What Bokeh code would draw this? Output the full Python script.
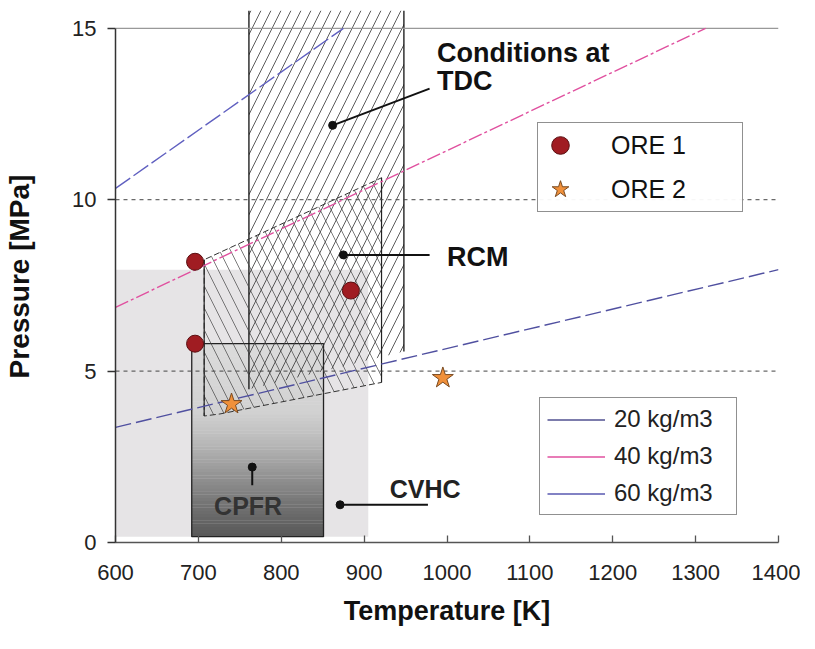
import numpy as np
from bokeh.plotting import figure
from bokeh.models import Range1d, Legend, LegendItem, FixedTicker
from bokeh.core.properties import value
from bokeh.embed import file_html
from bokeh.resources import INLINE

# ---------------- data ----------------
x_ticks = [600, 700, 800, 900, 1000, 1100, 1200, 1300, 1400]
y_ticks = [0, 5, 10, 15]

# iso-density lines (Temperature K, Pressure MPa)
rho20_T = [600, 1400]
rho20_P = [3.36, 7.96]
rho40_T = [600, 1312]
rho40_P = [6.86, 15.0]
rho60_T = [600, 875]
rho60_P = [10.33, 15.0]

# ORE points
ore1_T = [696, 696, 884]
ore1_P = [8.19, 5.8, 7.35]
ore2_T = [740, 995]
ore2_P = [4.04, 4.8]

# regions
cvhc_box = dict(left=600, right=905, bottom=0.17, top=7.96)
cpfr_box = dict(left=692, right=851, bottom=0.17, top=5.8)
rcm_T = [707, 707, 726, 921, 921]
rcm_P = [8.25, 3.69, 3.75, 4.67, 10.64]
tdc_T = [761, 761, 948, 948]
tdc_P = [15.52, 4.47, 5.57, 15.52]

# annotation pointers: dot position and line end
ann_dot_T = [862, 875, 765, 871]
ann_dot_P = [12.17, 8.39, 2.2, 1.1]
ann_end_T = [979, 979, 765, 977]
ann_end_P = [13.24, 8.39, 1.67, 1.1]

# ---------------- figure ----------------
p = figure(width=800, height=633, output_backend="svg", toolbar_location=None,
           x_range=Range1d(600, 1400), y_range=Range1d(0, 15.52),
           min_border_left=115, min_border_right=22, min_border_top=10, min_border_bottom=91)
p.outline_line_color = None
p.background_fill_color = "white"
p.xgrid.visible = False
p.ygrid.visible = False

FONT = "Liberation Sans"

# CVHC light region
p.quad(left=[cvhc_box["left"]], right=[cvhc_box["right"]], bottom=[cvhc_box["bottom"]],
       top=[cvhc_box["top"]], fill_color="#e6e4e6", line_color=None)

# CPFR gradient box (styling strips)
grad_y = [cpfr_box["bottom"], 1.0, 2.0, 3.0, 3.8, cpfr_box["top"]]
grad_v = [88, 112, 150, 188, 210, 220]
n = 60
edges = np.linspace(cpfr_box["bottom"], cpfr_box["top"], n + 1)
mids = (edges[:-1] + edges[1:]) / 2
gv = np.interp(mids, grad_y, grad_v).astype(int)
cols = ["#%02x%02x%02x" % (g, g, g) for g in gv]
p.quad(left=cpfr_box["left"], right=cpfr_box["right"], bottom=edges[:-1], top=edges[1:] + 0.01,
       fill_color=cols, line_color=None)
p.quad(left=[cpfr_box["left"]], right=[cpfr_box["right"]], bottom=[cpfr_box["bottom"]],
       top=[cpfr_box["top"]], fill_color=None, line_color="#222222", line_width=1.3)

# TDC hatched region
p.patch(tdc_T, tdc_P, fill_alpha=0, line_color=None,
        hatch_pattern="/", hatch_scale=20, hatch_color="#333333", hatch_weight=1.0, hatch_alpha=0.8)
p.segment(x0=[tdc_T[0], tdc_T[3]], y0=[tdc_P[0], tdc_P[3]], x1=[tdc_T[1], tdc_T[2]],
          y1=[tdc_P[1], tdc_P[2]], line_color="#111111", line_width=1.3)

# RCM cross hatch region
p.patch(rcm_T, rcm_P, fill_alpha=0, line_color="#333333", line_width=1, line_dash="6 3",
        hatch_pattern="\\", hatch_scale=22, hatch_color="#444444", hatch_weight=1.0, hatch_alpha=0.7)
p.segment(x0=[rcm_T[0], rcm_T[3]], y0=[rcm_P[0], rcm_P[3]], x1=[rcm_T[1], rcm_T[4]],
          y1=[rcm_P[1], rcm_P[4]], line_color="#222222", line_width=1.2)

# grid lines
p.segment(x0=[600, 600], x1=[1400, 1400], y0=[5, 10], y1=[5, 10],
          line_color="#444444", line_width=1, line_dash="4 4")
p.segment(x0=[600], x1=[1400], y0=[15], y1=[15], line_color="#999999", line_width=1.2)

# density lines
l20 = p.line(rho20_T, rho20_P, line_color="#5050a0", line_width=1.4, line_dash="16 5")
l40 = p.line(rho40_T, rho40_P, line_color="#e0509f", line_width=1.4, line_dash="14 3 3 3")
l60 = p.line(rho60_T, rho60_P, line_color="#6060c0", line_width=1.4, line_dash="18 4")

# legend proxies (solid lines, nothing visible in plot)
nanv = np.array([np.nan])
g20 = p.line(nanv, nanv, line_color="#505090", line_width=1.6)
g40 = p.line(nanv, nanv, line_color="#e0509f", line_width=1.6)
g60 = p.line(nanv, nanv, line_color="#5858b0", line_width=1.6)

# ORE points
c1 = p.scatter(ore1_T, ore1_P, marker="circle", size=17, fill_color="#a01c22", line_color="#5a0e10", line_width=1)
s2 = p.scatter(ore2_T, ore2_P, marker="star", size=22, fill_color="#f0903a", line_color="#7a4a20", line_width=1)

# annotations
p.segment(x0=ann_dot_T, y0=ann_dot_P, x1=ann_end_T, y1=ann_end_P, line_color="#111111", line_width=2)
p.scatter(ann_dot_T, ann_dot_P, marker="circle", size=8, fill_color="#111111", line_color="#111111")

def label(x, y, t, size, align="left", color="#111111"):
    p.text(x=[x], y=[y], text=[t], text_font=value(FONT), text_font_style="bold",
           text_font_size=size, text_baseline="middle", text_align=align, text_color=color)

label(988, 14.28, "Conditions at", "27px")
label(988, 13.46, "TDC", "27px")
label(1000, 8.34, "RCM", "27px")
label(931, 1.56, "CVHC", "25px", color="#222222")
label(760, 1.07, "CPFR", "25px", align="center", color="#333333")

# legends
leg1 = Legend(items=[LegendItem(label="ORE 1", renderers=[c1]), LegendItem(label="ORE 2", renderers=[s2])],
              location=(422, 330), orientation="vertical")
leg1.padding = 0
leg1.spacing = -3
leg1.glyph_width = 44
leg1.glyph_height = 44
leg1.label_height = 30
leg1.label_standoff = 29
leg1.label_width = 131
leg1.label_text_font = FONT
leg1.label_text_font_size = "25px"
leg1.label_text_color = "#111111"
leg1.border_line_color = "#222222"
leg1.border_line_width = 1.5
leg1.margin = 0

leg2 = Legend(items=[LegendItem(label="20 kg/m3", renderers=[g20]),
                     LegendItem(label="40 kg/m3", renderers=[g40]),
                     LegendItem(label="60 kg/m3", renderers=[g60])],
              location=(424, 27), orientation="vertical")
leg2.padding = 7
leg2.spacing = 9
leg2.glyph_width = 58
leg2.glyph_height = 27
leg2.label_height = 27
leg2.label_standoff = 9
leg2.label_width = 115
leg2.label_text_font = FONT
leg2.label_text_font_size = "24px"
leg2.label_text_color = "#222222"
leg2.border_line_color = "#222222"
leg2.border_line_width = 1.5
leg2.margin = 0
p.add_layout(leg1)
p.add_layout(leg2)

# axes
p.xaxis.ticker = FixedTicker(ticks=x_ticks)
p.yaxis.ticker = FixedTicker(ticks=y_ticks)
p.xaxis.bounds = (600, 1400)
p.yaxis.bounds = (0, 15)
p.xaxis.minor_tick_line_color = None
p.yaxis.minor_tick_line_color = None
p.xaxis.major_tick_in = 7
p.xaxis.major_tick_out = 0
p.yaxis.major_tick_in = 0
p.yaxis.major_tick_out = 8
p.xaxis.axis_line_color = "#555555"
p.yaxis.axis_line_color = "#333333"
p.xaxis.axis_line_width = 1.5
p.yaxis.axis_line_width = 1.5
p.xaxis.major_tick_line_color = "#555555"
p.yaxis.major_tick_line_color = "#333333"
p.xaxis.major_tick_line_width = 1.3
p.yaxis.major_tick_line_width = 1.3
for ax in (p.xaxis, p.yaxis):
    ax.major_label_text_font = FONT
    ax.major_label_text_color = "#222222"
    ax.axis_label_text_font = FONT
    ax.axis_label_text_font_style = "bold"
    ax.axis_label_text_color = "#111111"
p.xaxis.axis_label_text_font_size = "27px"
p.yaxis.axis_label_text_font_size = "28px"
p.xaxis.major_label_text_font_size = "22px"
p.yaxis.major_label_text_font_size = "22px"
p.xaxis.major_label_standoff = 22
p.yaxis.major_label_standoff = 11
p.xaxis.axis_label = "Temperature [K]"
p.yaxis.axis_label = "Pressure [MPa]"
p.xaxis.axis_label_standoff = 13
p.yaxis.axis_label_standoff = 34

open("out.html", "w").write(file_html(p, INLINE))
